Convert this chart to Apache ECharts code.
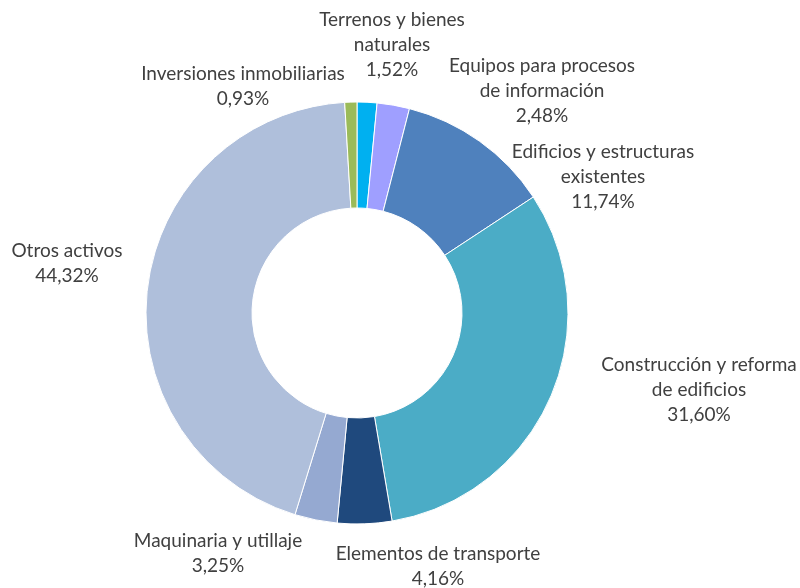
<!DOCTYPE html>
<html>
<head>
<meta charset="utf-8">
<script src="https://cdn.jsdelivr.net/npm/echarts@6/dist/echarts.min.js"></script>
<style>
  html, body { margin: 0; padding: 0; background: #fff; }
  #chart { width: 800px; height: 588px; }
</style>
</head>
<body>
<div id="chart"></div>
<script>
// categorías y porcentajes (orden horario desde arriba)
var categorias = [
    'Terrenos y bienes\nnaturales',
    'Equipos para procesos\nde información',
    'Edificios y estructuras\nexistentes',
    'Construcción y reforma\nde edificios',
    'Elementos de transporte',
    'Maquinaria y utillaje',
    'Otros activos',
    'Inversiones inmobiliarias'
];
var porcentajes = [1.52, 2.48, 11.74, 31.60, 4.16, 3.25, 44.32, 0.93];
var colores = ['#00B0F0', '#9F9FFF', '#4F81BD', '#4BACC6', '#1F497D', '#95A9D1', '#AFBFDB', '#9BBB59'];

// posición de las etiquetas (centro del bloque de texto)
var etiquetas = [
    [392, 45], [542, 91], [603, 177], [699, 390],
    [438, 566], [218, 553], [67, 263], [243, 86]
];

var myChart = echarts.init(document.getElementById('chart'));

var datos = categorias.map(function (c, i) {
    return { name: c, value: porcentajes[i], itemStyle: { color: colores[i] } };
});

var option = {
    animation: false,
    series: [{
        type: 'pie',
        center: [357, 313],
        radius: [105, 211],
        startAngle: 90,
        clockwise: true,
        avoidLabelOverlap: false,
        itemStyle: {
            borderColor: '#fff',
            borderWidth: 1
        },
        label: {
            show: true,
            position: 'outside',
            formatter: function (p) {
                return p.name + '\n' + p.value.toFixed(2).replace('.', ',') + '%';
            },
            fontFamily: 'Lato',
            fontSize: 19,
            lineHeight: 25,
            color: '#404040'
        },
        labelLine: { show: false },
        labelLayout: function (p) {
            var pos = etiquetas[p.dataIndex];
            return { x: pos[0], y: pos[1], align: 'center', verticalAlign: 'middle' };
        },
        data: datos
    }]
};

myChart.setOption(option);
</script>
</body>
</html>
